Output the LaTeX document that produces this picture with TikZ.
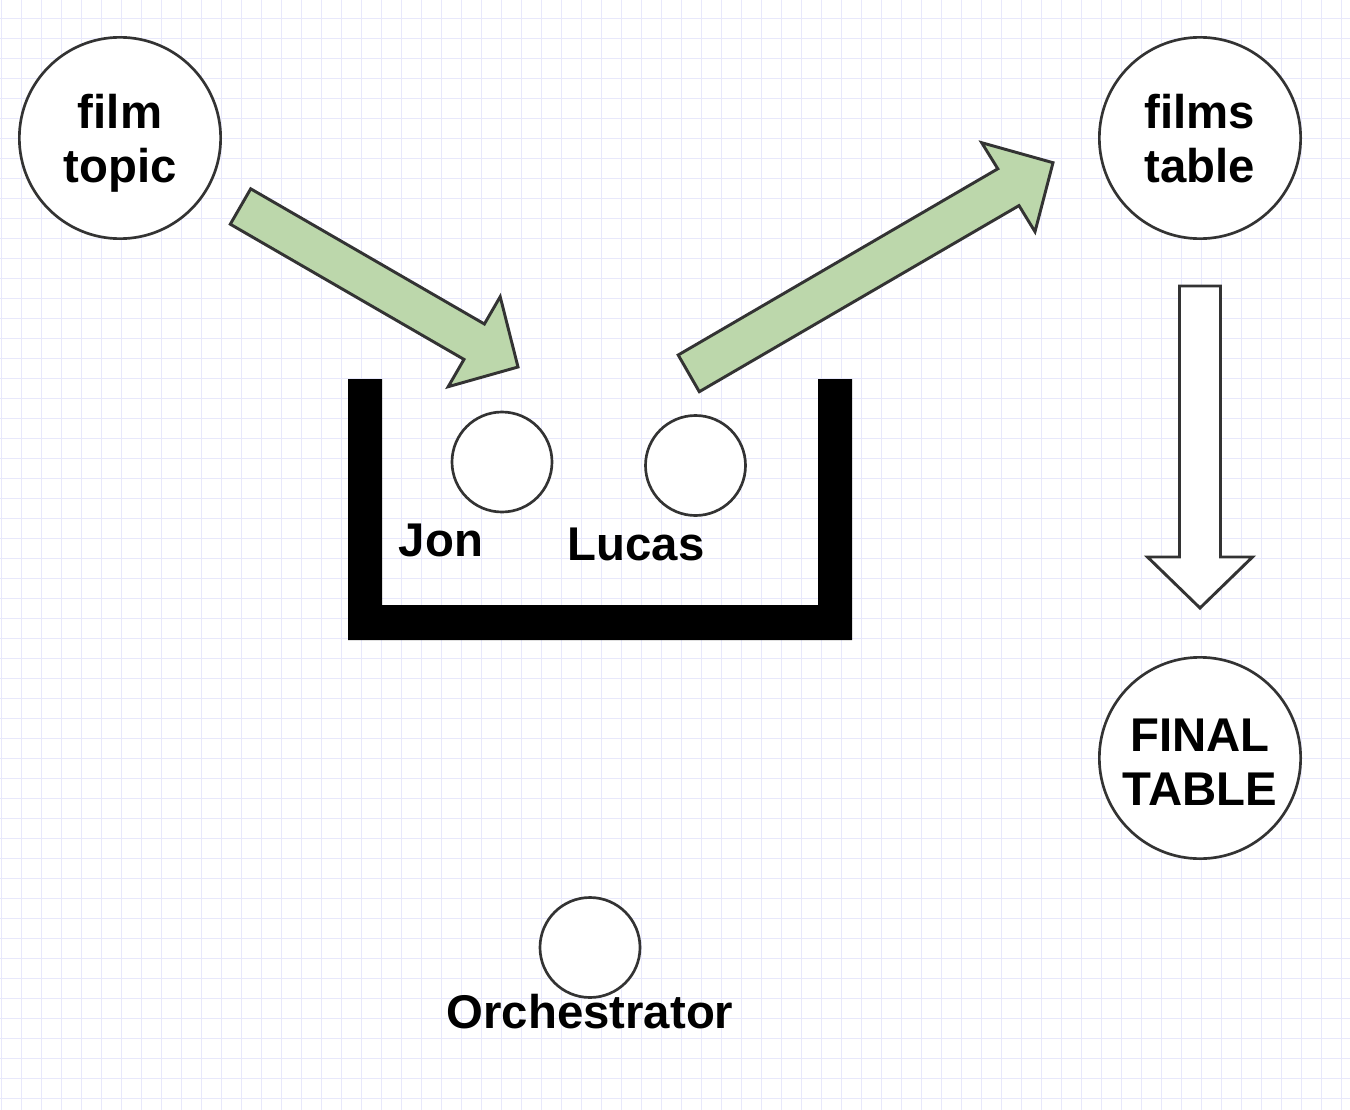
\documentclass[tikz,border=0pt]{standalone}
\usepackage{fontspec}
\setmainfont{Liberation Sans}
\definecolor{gridc}{RGB}{232,232,251}
\definecolor{arrowgreen}{RGB}{188,215,171}
\definecolor{strokec}{RGB}{51,51,51}
\tikzset{
  gridline/.style={draw=gridc, line width=1.1pt},
  bigtext/.style={inner sep=0pt, align=center, font=\fontsize{35.5}{40.5}\selectfont\bfseries},
  bigcircle/.style={circle, draw=strokec, line width=2pt, fill=white, minimum size=151pt, inner sep=0pt},
  smallcircle/.style={circle, draw=strokec, line width=2pt, fill=white, minimum size=75pt, inner sep=0pt},
  lbl/.style={inner sep=0pt, anchor=base, font=\fontsize{35.5}{40.5}\selectfont\bfseries},
  blockgreen/.style={draw=strokec, fill=arrowgreen, line width=2.2pt, line join=miter},
  blockwhite/.style={draw=strokec, fill=white, line width=2.2pt, line join=miter},
}
\begin{document}
\begin{tikzpicture}[x=0.75pt, y=-0.75pt]
\useasboundingbox (0,0) rectangle (1350,1110);
\fill[white] (0,0) rectangle (1350,1110);
% grid
\foreach \i in {0,...,67} { \draw[gridline] ({1.7+20*\i},0) -- ({1.7+20*\i},1110); }
\foreach \j in {0,...,55} { \draw[gridline] (0,{-1.7+20*\j}) -- (1350,{-1.7+20*\j}); }

% container
\fill[black] (348,379) -- (382,379) -- (382,605) -- (818,605) -- (818,379) -- (852,379) -- (852,640) -- (348,640) -- cycle;

% big circles with their texts
\node[bigcircle, label={[bigtext, name=ftt, yshift=-3.6pt]center:{film\\topic}}] (ft) at (120,138) {};
\node[bigcircle, label={[bigtext, name=fstt, yshift=-0.8pt]center:{films\\table}}] (fst) at (1200,138) {};
\node[bigcircle, label={[bigtext, name=finalt, yshift=-3.2pt]center:{FINAL\\TABLE}}] (final) at (1200,758) {};

% small circles
\node[smallcircle] (jon) at (502,462) {};
\node[smallcircle] (lucas) at (695.5,465.5) {};
\node[smallcircle] (orch) at (590,947.5) {};

% labels
\node[lbl] (jonl) at (441,556.5) {Jon};
\node[lbl] (lucasl) at (636,560) {Lucas};
\node[lbl] (orchl) at (590,1028.5) {Orchestrator};

% green arrow into container
\draw[blockgreen] (250.7,188.8) -- (484.4,324.0) -- (500.2,296.7) -- (518,367) -- (448.2,386.7) -- (464,359.4) -- (230.3,224.2) -- cycle;
% green arrow out to films table
\draw[blockgreen] (678.2,355) -- (997.8,168.8) -- (981.7,142.7) -- (1053,162.7) -- (1035,231.7) -- (1019,205.6) -- (699.3,391.7) -- cycle;
% white arrow down
\draw[blockwhite] (1179.5,286) -- (1220.5,286) -- (1220.5,557) -- (1252.5,557) -- (1200,608) -- (1147.5,557) -- (1179.5,557) -- cycle;
\end{tikzpicture}
\end{document}
